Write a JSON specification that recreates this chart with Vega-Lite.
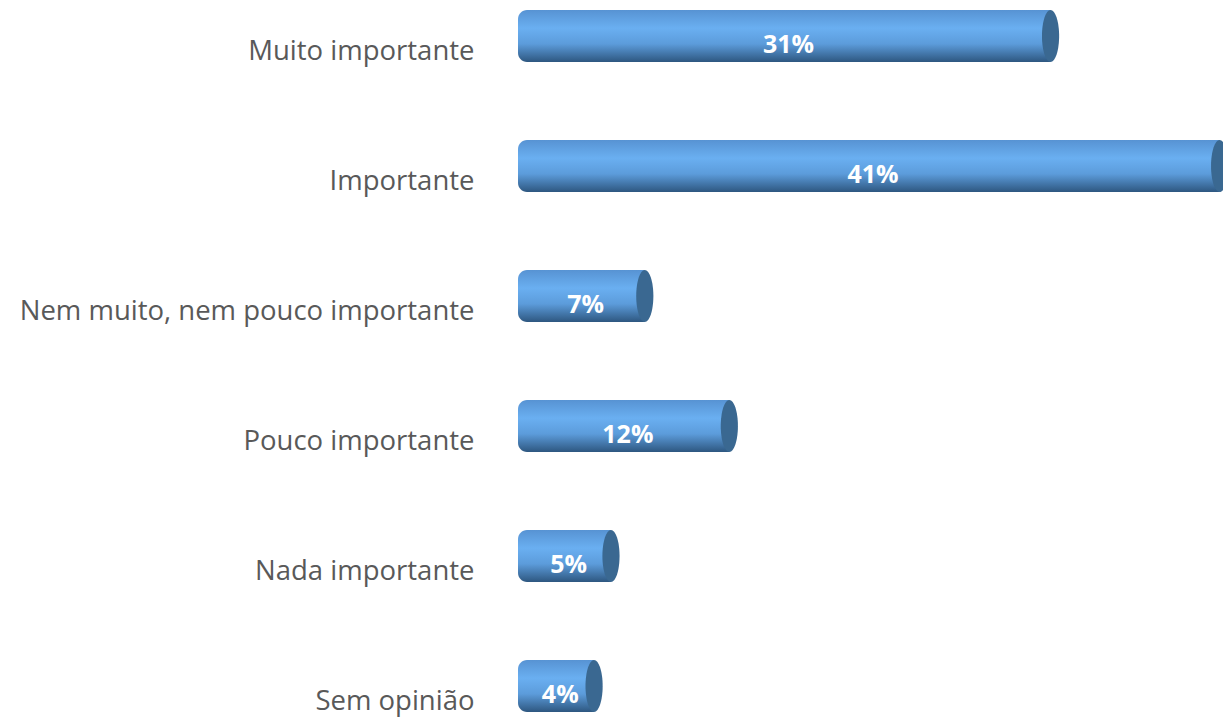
{
  "$schema": "https://vega.github.io/schema/vega-lite/v6.json",
  "autosize": {"type": "none"},
  "padding": {"left": 518, "top": 10, "right": 0, "bottom": 6},
  "width": 705,
  "height": 702,
  "background": "white",
  "config": {"view": {"stroke": null}},
  "data": {"values": [
    {"cat": "Muito importante", "value": 0.31},
    {"cat": "Importante", "value": 0.41},
    {"cat": "Nem muito, nem pouco importante", "value": 0.07},
    {"cat": "Pouco importante", "value": 0.12},
    {"cat": "Nada importante", "value": 0.05},
    {"cat": "Sem opinião", "value": 0.04}
  ]},
  "transform": [{"calculate": "datum.value / 2", "as": "mid"}],
  "encoding": {
    "y": {
      "field": "cat", "type": "nominal", "sort": null,
      "scale": {"paddingInner": 0.6, "paddingOuter": 0},
      "axis": {
        "title": null, "ticks": false, "domain": false, "grid": false,
        "labelFont": "Open Sans", "labelFontSize": 27.5, "labelColor": "#595959",
        "labelPadding": 44, "labelOffset": 16, "labelLimit": 600
      }
    }
  },
  "layer": [
    {
      "mark": {
        "type": "bar",
        "cornerRadiusTopLeft": 9, "cornerRadiusBottomLeft": 9,
        "color": {
          "gradient": "linear", "x1": 0, "y1": 0, "x2": 0, "y2": 1,
          "stops": [
            {"offset": 0, "color": "#5793d3"},
            {"offset": 0.35, "color": "#6aaff1"},
            {"offset": 0.65, "color": "#5c9cdb"},
            {"offset": 1, "color": "#2e5780"}
          ]
        }
      },
      "encoding": {
        "x": {"field": "value", "type": "quantitative", "scale": {"domain": [-0.005, 0.412], "nice": false, "zero": false}, "axis": null},
        "x2": {"datum": -0.005}
      }
    },
    {
      "mark": {
        "type": "point", "filled": true, "opacity": 1,
        "shape": "M0,-1A0.33,1 0 1,1 0,1A0.33,1 0 1,1 0,-1Z",
        "size": 2704, "color": "#3a6891"
      },
      "encoding": {
        "x": {"field": "value", "type": "quantitative"}
      }
    },
    {
      "mark": {
        "type": "text", "color": "white", "font": "Open Sans", "fontWeight": "bold",
        "fontSize": 25, "dy": 9
      },
      "encoding": {
        "x": {"field": "mid", "type": "quantitative"},
        "text": {"field": "value", "type": "quantitative", "format": ".0%"}
      }
    }
  ]
}
